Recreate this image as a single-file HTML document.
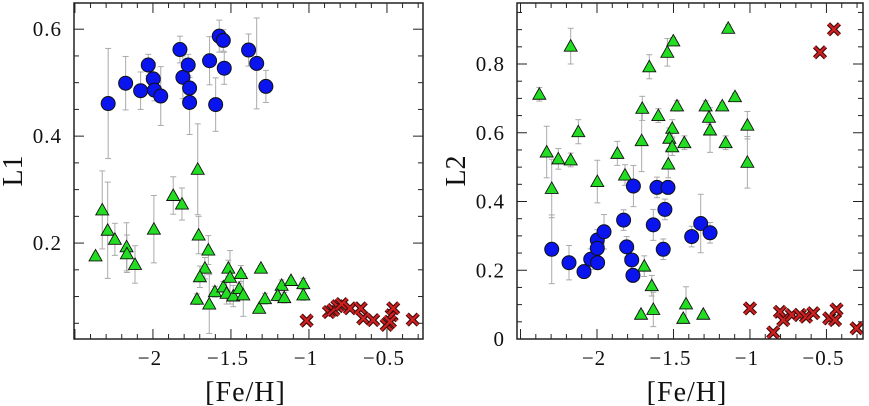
<!DOCTYPE html>
<html><head><meta charset="utf-8"><style>
html,body{margin:0;padding:0;background:#fff}
svg{display:block}
text{font-family:"Liberation Serif","DejaVu Serif",serif;fill:#111}
</style></head><body>
<svg id="chart" width="869" height="406" viewBox="0 0 869 406" xmlns="http://www.w3.org/2000/svg"></svg>
<script>
// ---- Data: left panel (L1) ----
const l1BlueX=[-2.287,-2.175,-2.079,-2.03,-1.998,-1.99,-1.95,-1.827,-1.808,-1.774,-1.765,-1.765,-1.637,-1.598,-1.575,-1.549,-1.543,-1.387,-1.335,-1.276];
const l1BlueY=[0.461,0.499,0.485,0.533,0.507,0.486,0.475,0.562,0.51,0.533,0.49,0.463,0.541,0.459,0.587,0.579,0.527,0.561,0.536,0.493];
const l1BlueE=[0.103,0.05,0.035,0.02,0.03,0.02,0.055,0.025,0.04,0.02,0.02,0.06,0.045,0.05,0.03,0.02,0.03,0.03,0.085,0.03];
const l1GreenX=[-2.368,-2.325,-2.29,-2.244,-2.169,-2.167,-2.115,-1.994,-1.87,-1.814,-1.713,-1.707,-1.645,-1.667,-1.699,-1.718,-1.639,-1.603,-1.549,-1.517,-1.506,-1.528,-1.485,-1.447,-1.436,-1.421,-1.308,-1.319,-1.282,-1.175,-1.2,-1.158,-1.115,-1.036,-1.036];
const l1GreenY=[0.176,0.262,0.224,0.207,0.193,0.18,0.16,0.226,0.289,0.273,0.338,0.215,0.187,0.153,0.137,0.095,0.086,0.109,0.118,0.153,0.136,0.106,0.101,0.115,0.143,0.103,0.153,0.078,0.096,0.121,0.102,0.098,0.13,0.124,0.103];
const l1GreenE=[0.005,0.073,0.09,0.03,0.045,0.035,0.035,0.063,0.035,0.03,0.085,0.035,0.027,0.02,0.02,0.01,0.055,0.01,0.01,0.015,0.05,0.02,0.02,0.01,0.015,0.04,0.005,0.005,0.01,0.01,0.01,0.01,0.005,0.01,0.01];
const l1RedX=[-1.015,-0.872,-0.844,-0.818,-0.79,-0.737,-0.668,-0.652,-0.588,-0.502,-0.47,-0.46,-0.481,-0.335];
const l1RedY=[0.055,0.071,0.075,0.082,0.086,0.078,0.078,0.059,0.056,0.047,0.065,0.078,0.053,0.057];
// ---- Data: right panel (L2) ----
const l2BlueX=[-2.296,-2.183,-2.085,-2.041,-1.998,-1.998,-1.996,-1.954,-1.826,-1.806,-1.773,-1.765,-1.762,-1.632,-1.608,-1.536,-1.556,-1.567,-1.381,-1.322,-1.261];
const l2BlueY=[0.261,0.222,0.196,0.232,0.288,0.264,0.222,0.312,0.346,0.268,0.23,0.185,0.445,0.332,0.441,0.441,0.377,0.261,0.298,0.336,0.309];
const l2BlueE=[0.1,0.05,0.02,0.03,0.03,0.02,0.02,0.05,0.03,0.03,0.03,0.02,0.06,0.045,0.03,0.02,0.03,0.03,0.03,0.085,0.03];
const l2GreenX=[-2.377,-2.329,-2.296,-2.253,-2.172,-2.172,-2.122,-1.998,-1.867,-1.817,-1.708,-1.704,-1.658,-1.691,-1.642,-1.712,-1.632,-1.599,-1.54,-1.501,-1.508,-1.527,-1.508,-1.534,-1.477,-1.429,-1.418,-1.436,-1.305,-1.29,-1.268,-1.261,-1.181,-1.159,-1.142,-1.098,-1.017,-1.017];
const l2GreenY=[0.712,0.544,0.438,0.524,0.521,0.852,0.603,0.458,0.54,0.477,0.577,0.671,0.792,0.212,0.155,0.072,0.086,0.65,0.834,0.867,0.613,0.584,0.559,0.509,0.678,0.571,0.102,0.06,0.072,0.678,0.645,0.608,0.678,0.571,0.904,0.705,0.622,0.514];
const l2GreenE=[0.02,0.075,0.085,0.03,0.02,0.052,0.035,0.062,0.035,0.03,0.09,0.035,0.035,0.03,0.03,0.01,0.05,0.02,0.04,0.01,0.025,0.03,0.025,0.04,0.015,0.02,0.05,0.01,0.01,0.015,0.02,0.065,0.01,0.02,0.01,0.01,0.04,0.075];
const l2RedX=[-1.0,-0.848,-0.804,-0.782,-0.727,-0.673,-0.634,-0.586,-0.542,-0.482,-0.451,-0.444,-0.434,-0.303];
const l2RedY=[0.089,0.019,0.079,0.055,0.07,0.07,0.065,0.075,0.834,0.06,0.901,0.055,0.086,0.031];
// ---- Ticks ----
const xMajorTicks=[-2,-1.5,-1,-0.5];
const xTickLabels=["\u22122","\u22121.5","\u22121","\u22120.5"];
const l1YMajor=[0.2,0.4,0.6];
const l1YLabels=["0.2","0.4","0.6"];
const l2YMajor=[0,0.2,0.4,0.6,0.8];
const l2YLabels=["0","0.2","0.4","0.6","0.8"];

const NS="http://www.w3.org/2000/svg";
const svg=document.getElementById('chart');
function mk(tag,attrs,parent){const e=document.createElementNS(NS,tag);for(const k in attrs)e.setAttribute(k,attrs[k]);(parent||svg).appendChild(e);return e;}

function panel(cfg){
  const g=mk('g',{});
  
  
  const sx=v=>cfg.px0+(v-cfg.x0)*(cfg.px1-cfg.px0)/(cfg.x1-cfg.x0);
  const sy=v=>cfg.py0+(v-cfg.y0)*(cfg.py1-cfg.py0)/(cfg.y1-cfg.y0);
  const L=cfg.px0,R=cfg.px1,T=3,B=339;
  const tg=mk('g',{stroke:'#222','stroke-width':1},g);
  
  
  for(let i=Math.ceil(cfg.x0*10);i<=Math.floor(cfg.x1*10);i++){
    const v=i/10,x=sx(v),maj=Math.abs(v*2-Math.round(v*2))<1e-6,len=maj?10:5;
    mk('line',{x1:x,x2:x,y1:B,y2:B-len},tg);mk('line',{x1:x,x2:x,y1:T,y2:T+len},tg);
  }
  for(let i=Math.ceil(cfg.y0*20-1e-6);i<=Math.floor(cfg.y1*20);i++){
    const v=i/20,y=sy(v),maj=Math.abs(v*5-Math.round(v*5))<1e-6,len=maj?10:5;
    mk('line',{x1:L,x2:L+len,y1:y,y2:y},tg);mk('line',{x1:R,x2:R-len,y1:y,y2:y},tg);
  }
  xMajorTicks.forEach((v,i)=>{const t=mk('text',{x:sx(v)-3,y:365,'font-size':21,'letter-spacing':1,'text-anchor':'middle'},g);t.textContent=xTickLabels[i];
    });
  cfg.yMaj.forEach((v,i)=>{const t=mk('text',{x:L-12,y:sy(v)+7,'font-size':21,'letter-spacing':1,'text-anchor':'end'},g);t.textContent=cfg.yLab[i];
    });
  const xt=mk('text',{x:(L+R)/2-3,y:401,'font-size':28,'letter-spacing':1,'text-anchor':'middle'},g);xt.textContent='[Fe/H]';
  
  const yt=mk('text',{x:0,y:0,'font-size':28,'text-anchor':'middle',transform:`translate(${L-52},171) rotate(-90)`},g);yt.textContent=cfg.ylabel;
  
  const eg=mk('g',{stroke:'#aaa','stroke-width':1},g);
  
  function eb(xs,ys,es){xs.forEach((xv,i)=>{const x=sx(xv),y1=sy(ys[i]-es[i]),y2=sy(ys[i]+es[i]);
    mk('line',{x1:x,x2:x,y1:y1,y2:y2},eg);mk('line',{x1:x-3,x2:x+3,y1:y1,y2:y1},eg);mk('line',{x1:x-3,x2:x+3,y1:y2,y2:y2},eg);});}
  eb(cfg.gx,cfg.gy,cfg.ge);eb(cfg.bx,cfg.by,cfg.be);
  const gg=mk('g',{},g);
  cfg.gx.forEach((xv,i)=>{const x=sx(xv),y=sy(cfg.gy[i]);
    const p=mk('polygon',{points:`${x},${y-6.5} ${x-6.5},${y+5} ${x+6.5},${y+5}`,fill:'#22dd22',stroke:'#111','stroke-width':0.9},gg);
    });
  const bg=mk('g',{},g);
  cfg.bx.forEach((xv,i)=>{const c=mk('circle',{cx:sx(xv),cy:sy(cfg.by[i]),r:7,fill:'#0a14ee',stroke:'#111','stroke-width':1},bg);
    });
  const rg=mk('g',{'stroke-linecap':'butt'},g);
  cfg.rx.forEach((xv,i)=>{const x=sx(xv),y=sy(cfg.ry[i]),d=5.5;
    const c=mk('g',{},rg);
    const path=`M${x-d},${y-d}L${x+d},${y+d}M${x-d},${y+d}L${x+d},${y-d}`;
    mk('path',{d:path,stroke:'#3a0a0a','stroke-width':4.5},c);
    mk('path',{d:path,stroke:'#d02020','stroke-width':2.3},c);});
  const fr=mk('rect',{x:L,y:T,width:R-L,height:B-T,fill:'none',stroke:'#222','stroke-width':1.5},g);
  
}
panel({name:'l1-panel',px0:74,px1:423,x0:-2.506,x1:-0.269,py0:339,py1:3,y0:0.0206,y1:0.649,yMaj:l1YMajor,yLab:l1YLabels,ylabel:'L1',
  bx:l1BlueX,by:l1BlueY,be:l1BlueE,gx:l1GreenX,gy:l1GreenY,ge:l1GreenE,rx:l1RedX,ry:l1RedY});
panel({name:'l2-panel',px0:517,px1:863,x0:-2.523,x1:-0.261,py0:339,py1:3,y0:0,y1:0.9775,yMaj:l2YMajor,yLab:l2YLabels,ylabel:'L2',
  bx:l2BlueX,by:l2BlueY,be:l2BlueE,gx:l2GreenX,gy:l2GreenY,ge:l2GreenE,rx:l2RedX,ry:l2RedY});
</script>
</body></html>
